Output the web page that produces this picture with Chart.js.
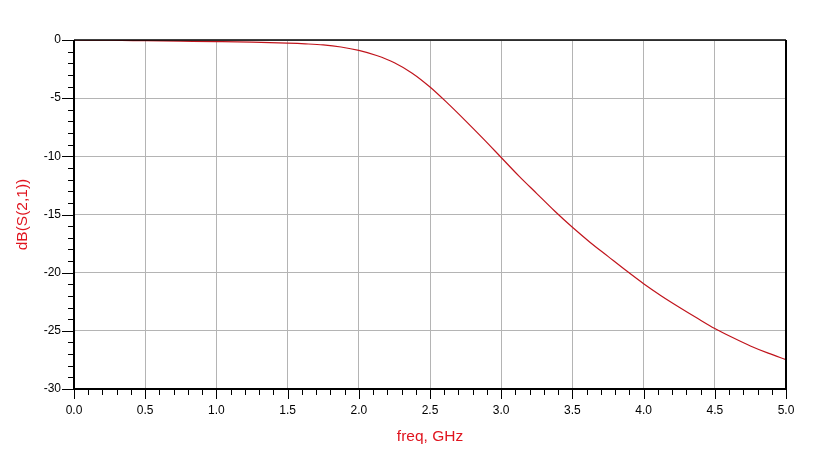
<!DOCTYPE html>
<html>
<head>
<meta charset="utf-8">
<script src="https://cdn.jsdelivr.net/npm/chart.js@4"></script>
<style>
  html, body { margin: 0; padding: 0; background: #fff; }
  #wrap { width: 820px; height: 461px; }
</style>
</head>
<body>
<div id="wrap"><canvas id="s21-chart" width="820" height="461"></canvas></div>
<script>
// freq (GHz) and dB(S(2,1))
const freqGHz = [0.0, 0.25, 0.5, 0.75, 1.0, 1.25, 1.5, 1.625, 1.75, 1.875, 2.0, 2.125, 2.25, 2.375, 2.5, 2.625, 2.75, 2.875, 3.0,
    3.125, 3.25, 3.375, 3.5, 3.625, 3.75, 3.875, 4.0, 4.125, 4.25, 4.375, 4.5, 4.625, 4.75, 4.875, 5.0];
const s21dB = [0.0, -0.02, -0.06, -0.1, -0.14, -0.19, -0.27, -0.33, -0.42, -0.6, -0.89, -1.33, -1.95, -2.85, -4.04, -5.45, -6.95, -8.5, -10.1,
    -11.7, -13.2, -14.7, -16.1, -17.4, -18.6, -19.8, -20.95, -22.0, -22.97, -23.9, -24.8, -25.58, -26.3, -26.92, -27.47];
const xTicks = [0, 0.5, 1, 1.5, 2, 2.5, 3, 3.5, 4, 4.5, 5];
const yTicks = [0, -5, -10, -15, -20, -25, -30];

const red = '#e0141e';
const curveRed = '#c0141c';

// tick marks (outside the plot) + black frame
const frameTicks = {
    id: 'frameTicks',
    afterDraw(chart) {
        const ctx = chart.ctx;
        const a = chart.chartArea;
        const xs = chart.scales.x, ys = chart.scales.y;
        ctx.save();
        ctx.strokeStyle = '#000';
        ctx.lineWidth = 1;
        ctx.beginPath();
        for (let i = 0; i <= 50; i++) {
            const px = Math.round(xs.getPixelForValue(i / 10)) + 0.5;
            const len = i % 5 === 0 ? 10 : 6;
            ctx.moveTo(px, a.bottom);
            ctx.lineTo(px, a.bottom + len);
        }
        for (let v = 0; v >= -30; v--) {
            const py = Math.round(ys.getPixelForValue(v)) + 0.5;
            const len = v % 5 === 0 ? 12 : 6;
            ctx.moveTo(a.left, py);
            ctx.lineTo(a.left - len, py);
        }
        ctx.stroke();

        ctx.lineWidth = 2;
        ctx.beginPath();
        ctx.moveTo(a.left, a.top);
        ctx.lineTo(a.left, a.bottom);
        ctx.lineTo(a.right, a.bottom);
        ctx.lineTo(a.right, a.top);
        ctx.stroke();
        ctx.lineWidth = 1.5;
        ctx.beginPath();
        ctx.moveTo(a.left, a.top);
        ctx.lineTo(a.right, a.top);
        ctx.stroke();
        ctx.restore();
    }
};

new Chart(document.getElementById('s21-chart'), {
    type: 'line',
    data: {
        datasets: [{
            data: freqGHz.map((f, i) => ({ x: f, y: s21dB[i] })),
            borderColor: curveRed,
            borderWidth: 1.2,
            pointRadius: 0,
            cubicInterpolationMode: 'monotone',
            fill: false
        }]
    },
    options: {
        responsive: false,
        animation: false,
        layout: { padding: { left: 0, top: 40, right: 34, bottom: 0 } },
        plugins: { legend: { display: false }, tooltip: { enabled: false } },
        scales: {
            x: {
                type: 'linear',
                min: 0,
                max: 5,
                afterBuildTicks: s => { s.ticks = xTicks.map(v => ({ value: v })); },
                afterFit: s => { s.height = 72; },
                grid: { color: '#b4b4b4', lineWidth: 1, drawTicks: false },
                border: { display: false },
                ticks: {
                    padding: 14,
                    color: '#000',
                    font: { family: 'Liberation Sans, Arial', size: 12 },
                    callback: v => v.toFixed(1)
                },
                title: {
                    display: true,
                    text: 'freq, GHz',
                    color: red,
                    font: { family: 'Liberation Sans, Arial', size: 15.5 },
                    padding: { top: 0, bottom: 14.5 }
                }
            },
            y: {
                min: -30,
                max: 0,
                afterBuildTicks: s => { s.ticks = yTicks.map(v => ({ value: v })); },
                afterFit: s => { s.width = 74; },
                grid: { color: '#b4b4b4', lineWidth: 1, drawTicks: false },
                border: { display: false },
                ticks: {
                    padding: 13,
                    color: '#000',
                    font: { family: 'Liberation Sans, Arial', size: 12 }
                },
                title: {
                    display: true,
                    text: 'dB(S(2,1))',
                    color: red,
                    font: { family: 'Liberation Sans, Arial', size: 15.5 },
                    padding: { top: 13.5, bottom: 0 }
                }
            }
        }
    },
    plugins: [frameTicks]
});
</script>
</body>
</html>
